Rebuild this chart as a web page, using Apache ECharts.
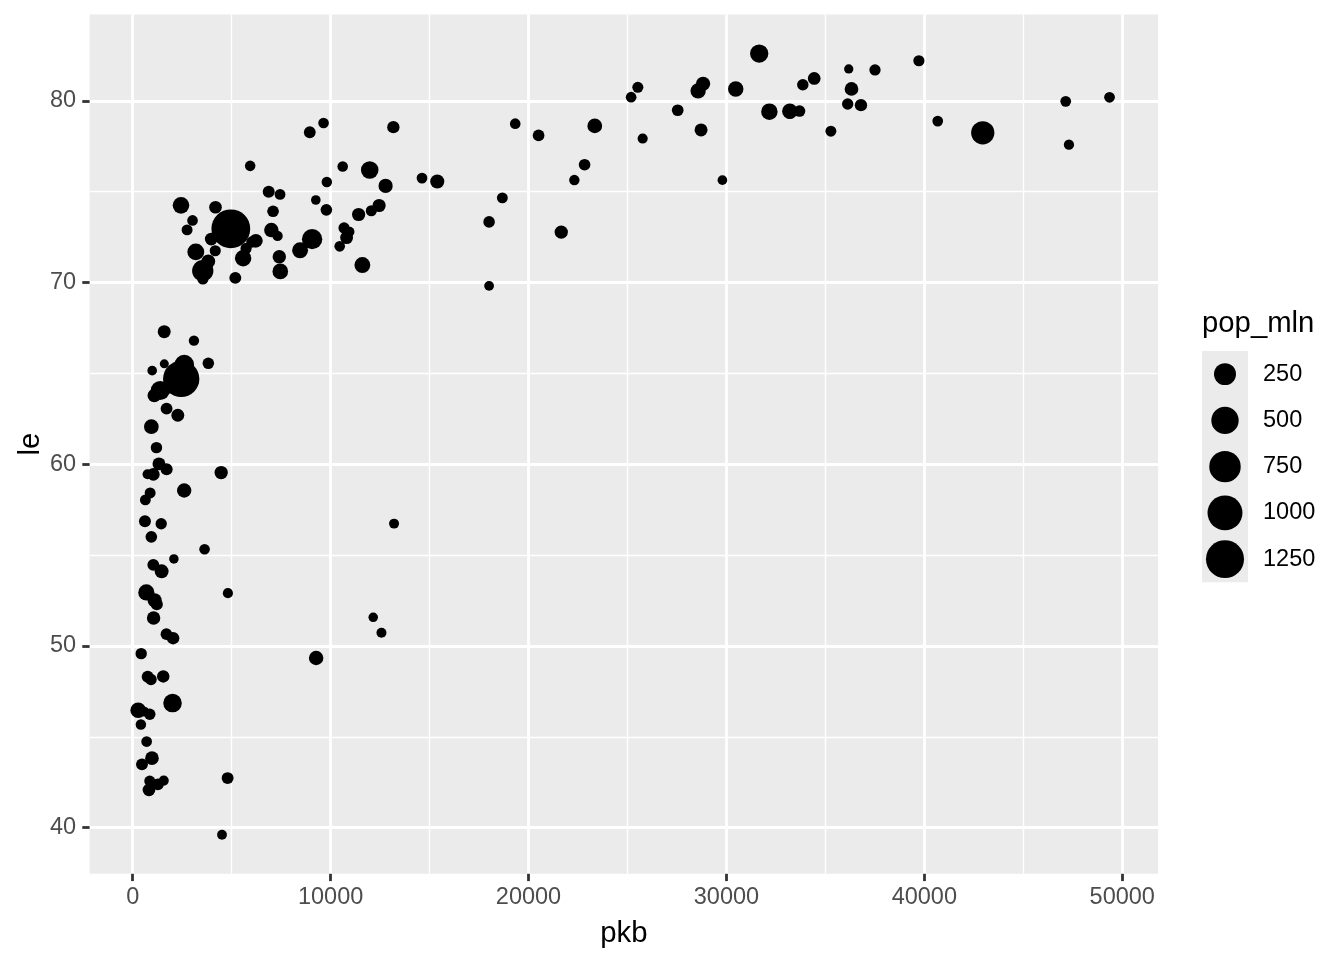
<!DOCTYPE html>
<html>
<head>
<meta charset="utf-8">
<script src="https://cdn.jsdelivr.net/npm/echarts@6/dist/echarts.min.js"></script>
<style>
html,body{margin:0;padding:0;background:#fff;}
#chart{width:1344px;height:960px;}
</style>
</head>
<body>
<div id="chart"></div>
<script>
const countries = ["Afghanistan","Albania","Algeria","Angola","Argentina","Australia","Austria","Bahrain","Bangladesh","Belgium","Benin","Bolivia","Bosnia and Herzegovina","Botswana","Brazil","Bulgaria","Burkina Faso","Burundi","Cambodia","Cameroon","Canada","Central African Republic","Chad","Chile","China","Colombia","Comoros","Congo, Dem. Rep.","Congo, Rep.","Costa Rica","Cote d'Ivoire","Croatia","Cuba","Czech Republic","Denmark","Djibouti","Dominican Republic","Ecuador","Egypt","El Salvador","Equatorial Guinea","Eritrea","Ethiopia","Finland","France","Gabon","Gambia","Germany","Ghana","Greece","Guatemala","Guinea","Guinea-Bissau","Haiti","Honduras","Hong Kong, China","Hungary","Iceland","India","Indonesia","Iran","Iraq","Ireland","Israel","Italy","Jamaica","Japan","Jordan","Kenya","Korea, Dem. Rep.","Korea, Rep.","Kuwait","Lebanon","Lesotho","Liberia","Libya","Madagascar","Malawi","Malaysia","Mali","Mauritania","Mauritius","Mexico","Mongolia","Montenegro","Morocco","Mozambique","Myanmar","Namibia","Nepal","Netherlands","New Zealand","Nicaragua","Niger","Nigeria","Norway","Oman","Pakistan","Panama","Paraguay","Peru","Philippines","Poland","Portugal","Puerto Rico","Romania","Rwanda","Sao Tome and Principe","Saudi Arabia","Senegal","Serbia","Sierra Leone","Singapore","Slovak Republic","Slovenia","Somalia","South Africa","Spain","Sri Lanka","Sudan","Swaziland","Sweden","Switzerland","Syria","Taiwan","Tanzania","Thailand","Togo","Trinidad and Tobago","Tunisia","Turkey","Uganda","United Kingdom","United States","Uruguay","Venezuela","Vietnam","West Bank and Gaza","Yemen, Rep.","Zambia","Zimbabwe"];

const pkb = [974.58,5937.03,6223.37,4797.23,12779.38,34435.37,36126.49,29796.05,1391.25,33692.61,1441.28,3822.14,7446.30,12569.85,9065.80,10680.79,1217.03,430.07,1713.78,2042.10,36319.24,706.02,1704.06,13171.64,4959.11,7006.58,986.15,277.55,3632.56,9645.06,1544.75,14619.22,8948.10,22833.31,35278.42,2082.48,6025.37,6873.26,5581.18,5728.35,12154.09,641.37,690.81,33207.08,30470.02,13206.48,752.75,32170.37,1327.61,27538.41,5186.05,942.65,579.23,1201.64,3548.33,39724.98,18008.94,36180.79,2452.21,3540.65,11605.71,4471.06,40676.00,25523.28,28569.72,7320.88,31656.07,4519.46,1463.25,1593.07,23348.14,47306.99,10461.06,1569.33,414.51,12057.50,1044.77,759.35,12451.66,1042.58,1803.15,10956.99,11977.57,3095.77,9253.90,3820.18,823.69,944.00,4811.06,1091.36,36797.93,25185.01,2749.32,619.68,2013.98,49357.19,22316.19,2605.95,9809.19,4172.84,7408.91,3190.48,15389.92,20509.65,19328.71,10808.48,863.09,1598.44,21654.83,1712.47,9786.53,862.54,47143.18,18678.31,25768.26,926.14,9269.66,28821.06,3970.10,2602.39,4513.48,33859.75,37506.42,4184.55,28718.28,1107.48,7458.40,882.97,18008.51,7092.92,8458.28,1056.38,33203.26,42951.65,10611.46,11415.81,2441.58,3025.35,2280.77,1271.21,469.71];

const le = [43.828,76.423,72.301,42.731,75.320,81.235,79.829,75.635,64.062,79.441,56.728,65.554,74.852,50.728,72.390,73.005,52.295,49.580,59.723,50.430,80.653,44.741,50.651,78.553,72.961,72.889,65.152,46.462,55.322,78.782,48.328,75.748,78.273,76.486,78.332,54.791,72.235,74.994,71.338,71.878,51.579,58.040,52.947,79.313,80.657,56.735,59.448,79.406,60.022,79.483,70.259,56.007,46.388,60.916,70.198,82.208,73.338,81.757,64.698,70.650,70.964,59.545,78.885,80.745,80.546,72.567,82.603,72.535,54.110,67.297,78.623,77.588,71.993,42.592,45.678,73.952,59.443,48.303,74.241,54.467,64.164,72.801,76.195,66.803,74.543,71.164,42.082,62.069,52.906,63.785,79.762,80.204,72.899,56.867,46.859,80.196,75.640,65.483,75.537,71.752,71.421,71.688,75.563,78.098,78.746,72.476,46.242,65.528,72.777,63.062,74.002,42.568,79.972,74.663,77.926,48.159,49.339,80.941,72.396,58.556,39.613,80.884,81.701,74.143,78.400,52.517,70.616,58.420,69.819,73.923,71.777,51.542,79.425,78.242,76.384,73.747,74.249,73.422,62.698,42.384,43.487];

const pop_mln = [31.89,3.60,33.33,12.42,40.30,20.43,8.20,0.71,150.45,10.39,8.08,9.12,4.55,1.64,190.01,7.32,14.33,8.39,14.13,17.70,33.39,4.37,10.24,16.28,1318.68,44.23,0.71,64.61,3.80,4.13,18.01,4.49,11.42,10.23,5.47,0.50,9.32,13.76,80.26,6.94,0.55,4.91,76.51,5.24,61.08,1.45,1.69,82.40,22.87,10.71,12.57,9.95,1.47,8.50,7.48,6.98,9.96,0.30,1110.40,223.55,69.45,27.50,4.11,6.43,58.15,2.78,127.47,6.05,35.61,23.30,49.04,2.51,3.92,2.01,3.19,6.04,19.17,13.33,24.82,12.03,3.27,1.25,108.70,2.87,0.68,33.76,19.95,47.76,2.06,28.90,16.57,4.12,5.68,12.89,135.03,4.63,3.20,169.27,3.24,6.67,28.67,91.08,38.52,10.64,3.94,22.28,8.86,0.20,27.60,12.27,10.15,6.14,4.55,5.45,2.01,9.12,44.00,40.45,20.38,42.29,1.13,9.03,7.55,19.31,23.17,38.14,65.07,5.70,1.06,10.28,71.16,29.17,60.78,301.14,3.45,26.08,85.26,4.02,22.21,11.75,12.31];

const xTicks = [0, 10000, 20000, 30000, 40000, 50000];
const yTicks = [40, 50, 60, 70, 80];
const sizeBreaks = [250, 500, 750, 1000, 1250];

// ---- layout ----
const W = 1344, H = 960;
const P = {l: 89.6, r: 1158.1, t: 14.5, b: 873.8};
const FONT = "'Liberation Sans', Arial, Helvetica, sans-serif";

function expand(arr) {
  const mn = Math.min(...arr), mx = Math.max(...arr), d = (mx - mn) * 0.05;
  return [mn - d, mx + d];
}
const xr = expand(pkb), yr = expand(le);
const px = v => P.l + (v - xr[0]) / (xr[1] - xr[0]) * (P.r - P.l);
const py = v => P.b - (v - yr[0]) / (yr[1] - yr[0]) * (P.b - P.t);

const popMin = Math.min(...pop_mln), popMax = Math.max(...pop_mln);
function diam(p) {
  const s = 1 + 5 * Math.sqrt(Math.max(0, (p - popMin) / (popMax - popMin)));
  return 3.1 + 5.946 * s;
}

const data = pkb.map((g, i) => [g, le[i], pop_mln[i], countries[i]]);

const xStep = xTicks[1] - xTicks[0];
const yStep = yTicks[1] - yTicks[0];
const xLo = xTicks[0], xHi = xTicks[xTicks.length - 1];
const yLo = yTicks[0], yHi = yTicks[yTicks.length - 1];

// legend
const keyTop = 351, keyH = 46.25, keyX = 1202, keyW = 46;
const graphics = [
  {type: 'rect', silent: true, z: 5, shape: {x: keyX, y: keyTop, width: keyW, height: keyH * sizeBreaks.length}, style: {fill: '#EBEBEB'}},
  {type: 'text', silent: true, z: 5, style: {text: 'pop_mln', x: 1202, y: 324, fill: '#000', fontSize: 29.3, fontFamily: FONT, align: 'left', verticalAlign: 'middle'}},
  {type: 'text', silent: true, z: 5, style: {text: 'pkb', x: (P.l + P.r) / 2, y: 934, fill: '#000', fontSize: 29.3, fontFamily: FONT, align: 'center', verticalAlign: 'middle'}},
  {type: 'text', silent: true, z: 5, x: 31, y: (P.t + P.b) / 2, rotation: Math.PI / 2, style: {text: 'le', x: 0, y: 0, fill: '#000', fontSize: 29.3, fontFamily: FONT, align: 'center', verticalAlign: 'middle'}}
];
sizeBreaks.forEach((b, i) => {
  const cy = keyTop + keyH * (i + 0.5);
  graphics.push({type: 'circle', silent: true, z: 6, shape: {cx: keyX + keyW / 2, cy: cy, r: diam(b) / 2}, style: {fill: '#000'}});
  graphics.push({type: 'text', silent: true, z: 6, style: {text: String(b), x: 1263, y: cy, fill: '#000', fontSize: 23.5, fontFamily: FONT, align: 'left', verticalAlign: 'middle'}});
});

const plain = v => String(v);

const chart = echarts.init(document.getElementById('chart'), null, {renderer: 'canvas'});
chart.setOption({
  animation: false,
  backgroundColor: '#fff',
  textStyle: {fontFamily: FONT},
  grid: [
    {left: P.l, top: P.t, width: P.r - P.l, height: P.b - P.t, show: true, backgroundColor: '#EBEBEB', borderWidth: 0, containLabel: false, outerBoundsMode: 'none'},
    {left: px(xLo), top: P.t, width: px(xHi) - px(xLo), height: P.b - P.t, show: false, containLabel: false, outerBoundsMode: 'none'},
    {left: P.l, top: py(yHi), width: P.r - P.l, height: py(yLo) - py(yHi), show: false, containLabel: false, outerBoundsMode: 'none'}
  ],
  xAxis: [
    {gridIndex: 0, type: 'value', min: xr[0], max: xr[1], show: false},
    {gridIndex: 1, type: 'value', min: xLo, max: xHi, interval: xStep,
      axisLine: {show: false},
      axisTick: {show: true, length: 7.3, lineStyle: {color: '#333333', width: 2.8}},
      axisLabel: {show: true, margin: 12, color: '#4D4D4D', fontSize: 23.5, fontFamily: FONT, showMinLabel: true, showMaxLabel: true, formatter: plain},
      splitLine: {show: true, lineStyle: {color: '#FFFFFF', width: 2.8}},
      minorTick: {show: false, splitNumber: 2},
      minorSplitLine: {show: true, lineStyle: {color: '#FFFFFF', width: 1.4}}
    },
    {gridIndex: 2, type: 'value', min: 0, max: 1, show: false}
  ],
  yAxis: [
    {gridIndex: 0, type: 'value', min: yr[0], max: yr[1], show: false},
    {gridIndex: 1, type: 'value', min: 0, max: 1, show: false},
    {gridIndex: 2, type: 'value', min: yLo, max: yHi, interval: yStep,
      axisLine: {show: false},
      axisTick: {show: true, length: 7.3, lineStyle: {color: '#333333', width: 2.8}},
      axisLabel: {show: true, margin: 13.5, color: '#4D4D4D', fontSize: 23.5, fontFamily: FONT, showMinLabel: true, showMaxLabel: true, formatter: plain},
      splitLine: {show: true, lineStyle: {color: '#FFFFFF', width: 2.8}},
      minorTick: {show: false, splitNumber: 2},
      minorSplitLine: {show: true, lineStyle: {color: '#FFFFFF', width: 1.4}}
    }
  ],
  series: [{
    type: 'scatter',
    xAxisIndex: 0, yAxisIndex: 0,
    data: data,
    symbol: 'circle',
    symbolSize: v => diam(v[2]),
    itemStyle: {color: '#000000', opacity: 1},
    emphasis: {disabled: true},
    silent: true,
    clip: false,
    z: 3
  }],
  graphic: graphics
});
</script>
</body>
</html>
